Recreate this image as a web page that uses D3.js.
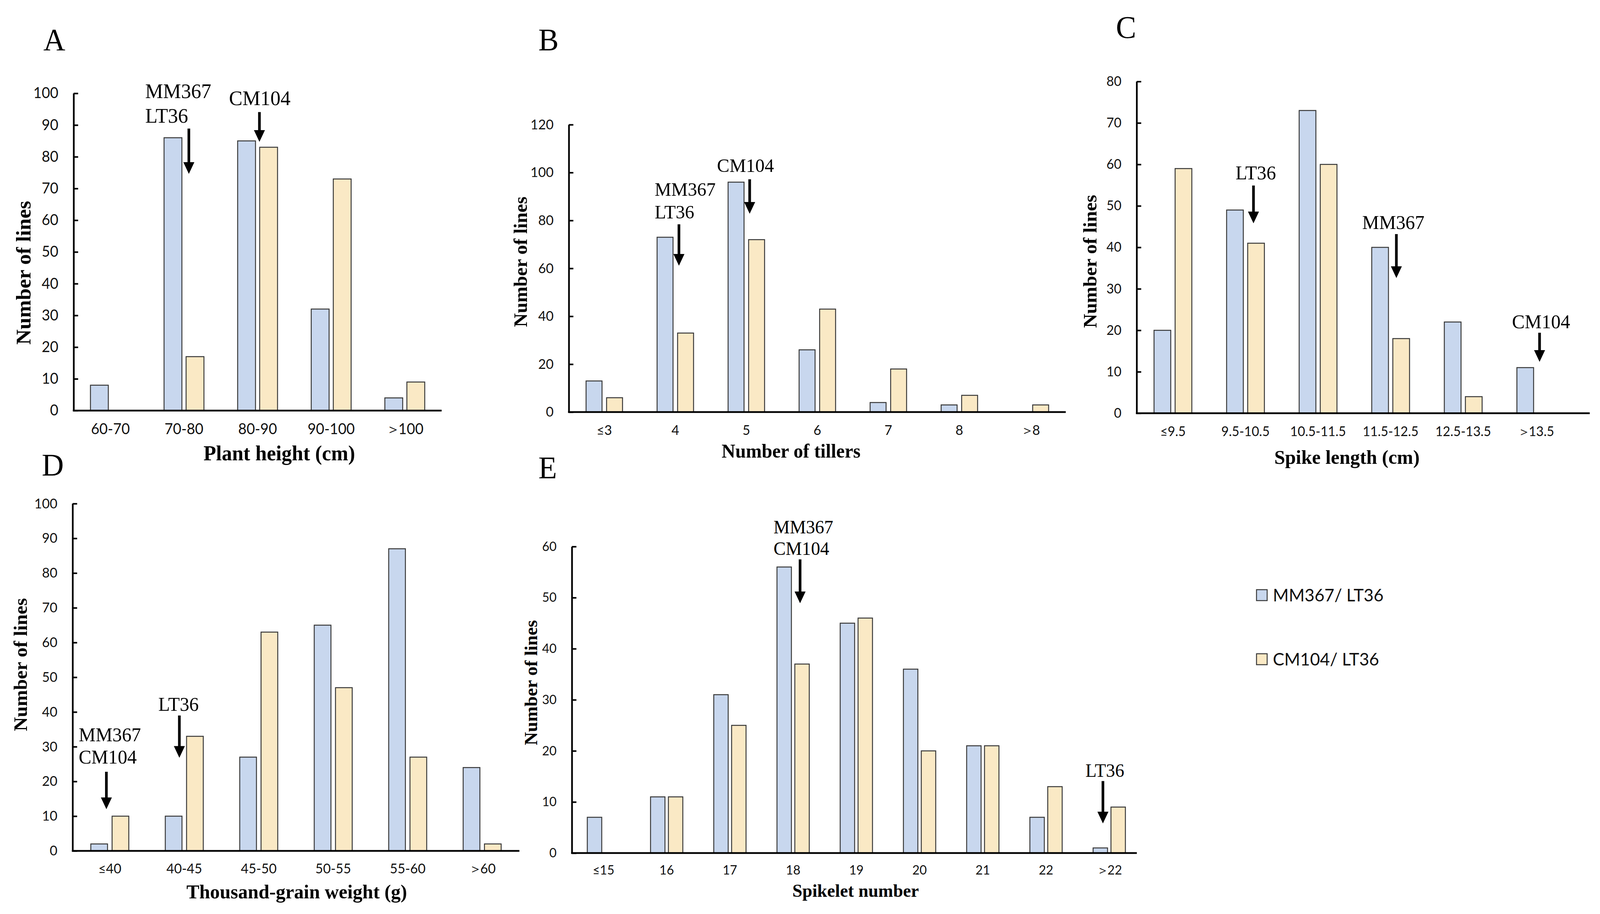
<!DOCTYPE html>
<html>
<head>
<meta charset="utf-8">
<script src="https://cdn.jsdelivr.net/npm/d3@7"></script>
<style>
  html, body { margin: 0; padding: 0; background: #ffffff; overflow: hidden; }
  svg { display: block; width: 100vw; height: 100vh; }
</style>
</head>
<body>
<svg id="chart" viewBox="0 0 4211 2339" preserveAspectRatio="none"></svg>
<script>
// ---------------- DATA ----------------
const seriesNames = ["MM367/ LT36", "CM104/ LT36"];

const catsA = ["60-70", "70-80", "80-90", "90-100", "＞100"];
const mmA   = [8, 86, 85, 32, 4];
const cmA   = [0, 17, 83, 73, 9];
const ticksA = [0, 10, 20, 30, 40, 50, 60, 70, 80, 90, 100];
const annLabelsA = [["MM367", "LT36"], ["CM104"]];

const catsB = ["≤3", "4", "5", "6", "7", "8", "＞8"];
const mmB   = [13, 73, 96, 26, 4, 3, 0];
const cmB   = [6, 33, 72, 43, 18, 7, 3];
const ticksB = [0, 20, 40, 60, 80, 100, 120];
const annLabelsB = [["MM367", "LT36"], ["CM104"]];

const catsC = ["≤9.5", "9.5-10.5", "10.5-11.5", "11.5-12.5", "12.5-13.5", "＞13.5"];
const mmC   = [20, 49, 73, 40, 22, 11];
const cmC   = [59, 41, 60, 18, 4, 0];
const ticksC = [0, 10, 20, 30, 40, 50, 60, 70, 80];
const annLabelsC = [["LT36"], ["MM367"], ["CM104"]];

const catsD = ["≤40", "40-45", "45-50", "50-55", "55-60", "＞60"];
const mmD   = [2, 10, 27, 65, 87, 24];
const cmD   = [10, 33, 63, 47, 27, 2];
const ticksD = [0, 10, 20, 30, 40, 50, 60, 70, 80, 90, 100];
const annLabelsD = [["MM367", "CM104"], ["LT36"]];

const catsE = ["≤15", "16", "17", "18", "19", "20", "21", "22", "＞22"];
const mmE   = [7, 11, 31, 56, 45, 36, 21, 7, 1];
const cmE   = [0, 11, 25, 37, 46, 20, 21, 13, 9];
const ticksE = [0, 10, 20, 30, 40, 50, 60];
const annLabelsE = [["MM367", "CM104"], ["LT36"]];

const panelLetters = ["A", "B", "C", "D", "E"];
const xTitles = ["Plant height (cm)", "Number of tillers", "Spike length (cm)",
                 "Thousand-grain weight (g)", "Spikelet number"];
const yTitle = "Number of lines";

// ---------------- LAYOUT / STYLE ----------------
const colors = ["#c8d7ee", "#fae9c5"];
const strokeCol = "#383838";
const serif = "'Liberation Serif', 'Times New Roman', serif";
const sans = "Lato, 'Open Sans', sans-serif";

const layouts = [
  { x0: 193.7, band: 193.7, axisEnd: 1162.3, y0: 1050.7, yTop: 238.8, bar: 47, gap: 11, tickFont: 38, labelDy: 60,
    letter: [114, 128.6], xt: [735, 1178, 54], yt: [80, 698, 54], annFont: 53,
    ann: [ {cat: 1, anchor: "start", tx: -0.527, ty: [98.5, 90.7], ax: 0.066, a1: 88.9, a2: 74.6},
           {cat: 2, anchor: "middle", tx: 0.03, ty: [96.3], ax: 0.025, a1: 94.1, a2: 84.7} ] },
  { x0: 1497, band: 186.9, axisEnd: 2805, y0: 1054.6, yTop: 319, bar: 42, gap: 12, tickFont: 35, labelDy: 58.5,
    letter: [1417, 128.6], xt: [2082, 1171, 50], yt: [1387, 670, 49], annFont: 49,
    ann: [ {cat: 1, anchor: "start", tx: -0.291, ty: [90.3, 80.8], ax: 0.051, a1: 78.4, a2: 61.1},
           {cat: 2, anchor: "middle", tx: -0.012, ty: [100.3], ax: 0.047, a1: 97.2, a2: 82.8} ] },
  { x0: 2991.5, band: 191, axisEnd: 4184, y0: 1057.5, yTop: 208.5, bar: 44, gap: 11.5, tickFont: 34, labelDy: 59,
    letter: [2937, 97], xt: [3545, 1187, 51], yt: [2886, 669, 50], annFont: 50,
    ann: [ {cat: 1, anchor: "middle", tx: 0.141, ty: [56.4], ax: 0.110, a1: 54.9, a2: 45.8},
           {cat: 3, anchor: "middle", tx: 0.037, ty: [44.4], ax: 0.079, a1: 43.2, a2: 32.6},
           {cat: 5, anchor: "middle", tx: 0.073, ty: [20.5], ax: 0.052, a1: 19.4, a2: 12.4} ] },
  { x0: 191, band: 196, axisEnd: 1367, y0: 2177.5, yTop: 1288.8, bar: 44, gap: 12, tickFont: 35, labelDy: 57.5,
    letter: [110, 1217], xt: [781, 2299, 51], yt: [71, 1701, 50], annFont: 50,
    ann: [ {cat: 0, anchor: "start", tx: -0.418, ty: [31.6, 25.1], ax: -0.046, a1: 22.8, a2: 12.0},
           {cat: 1, anchor: "middle", tx: -0.077, ty: [40.3], ax: -0.066, a1: 39.0, a2: 26.8} ] },
  { x0: 1505, band: 166.4, axisEnd: 2992, y0: 2183, yTop: 1398.7, bar: 38, gap: 9, tickFont: 33, labelDy: 55,
    letter: [1417, 1224], xt: [2252, 2295, 47], yt: [1414, 1747, 47], annFont: 48,
    ann: [ {cat: 3, anchor: "start", tx: -0.31, ty: [62.6, 58.4], ax: 0.11, a1: 57.5, a2: 48.9},
           {cat: 8, anchor: "middle", tx: -0.07, ty: [14.9], ax: -0.10, a1: 14.1, a2: 5.8} ] }
];

const panelData = [
  { cats: catsA, s: [mmA, cmA], ticks: ticksA, ann: annLabelsA },
  { cats: catsB, s: [mmB, cmB], ticks: ticksB, ann: annLabelsB },
  { cats: catsC, s: [mmC, cmC], ticks: ticksC, ann: annLabelsC },
  { cats: catsD, s: [mmD, cmD], ticks: ticksD, ann: annLabelsD },
  { cats: catsE, s: [mmE, cmE], ticks: ticksE, ann: annLabelsE }
];

// ---------------- DRAW ----------------
const svg = d3.select("#chart");
svg.append("rect").attr("width", 4211).attr("height", 2339).attr("fill", "#ffffff");

panelData.forEach((pd, i) => {
  const L = layouts[i];
  const g = svg.append("g");
  const n = pd.cats.length;
  const x = d3.scaleBand().domain(pd.cats).range([L.x0, L.x0 + n * L.band]).padding(0);
  const yMax = pd.ticks[pd.ticks.length - 1];
  const y = d3.scaleLinear().domain([0, yMax]).range([L.y0, L.yTop]);
  const sub = d3.scaleOrdinal().domain([0, 1]).range([-L.gap / 2 - L.bar, L.gap / 2]);

  // bars
  pd.s.forEach((vals, si) => {
    g.append("g").selectAll("rect")
      .data(pd.cats.map((c, k) => ({ c, v: vals[k] })).filter(d => d.v > 0))
      .join("rect")
      .attr("x", d => x(d.c) + x.bandwidth() / 2 + sub(si))
      .attr("y", d => y(d.v))
      .attr("width", L.bar)
      .attr("height", d => y(0) - y(d.v))
      .attr("fill", colors[si])
      .attr("stroke", strokeCol)
      .attr("stroke-width", 2.5);
  });

  // y axis (ticks point inward)
  const ya = g.append("g").attr("transform", `translate(${L.x0},0)`)
    .call(d3.axisLeft(y).tickValues(pd.ticks).tickSizeInner(-12).tickSizeOuter(0).tickPadding(40));
  ya.select(".domain").attr("stroke", "#000").attr("stroke-width", 4.5);
  ya.selectAll(".tick line").attr("stroke", "#000").attr("stroke-width", 4);
  ya.selectAll(".tick text").attr("x", -40)
    .attr("font-family", sans).attr("font-size", L.tickFont).attr("fill", "#111");

  // x axis line
  g.append("line")
    .attr("x1", L.x0 - 2).attr("x2", L.axisEnd)
    .attr("y1", y(0)).attr("y2", y(0))
    .attr("stroke", "#000").attr("stroke-width", 4.5);

  // category labels
  const xa = g.append("g").attr("transform", `translate(0,${y(0)})`)
    .call(d3.axisBottom(x).tickSize(0).tickPadding(0));
  xa.select(".domain").remove();
  xa.selectAll(".tick text")
    .attr("y", L.labelDy).attr("dy", null)
    .attr("font-family", sans).attr("font-size", L.tickFont).attr("fill", "#111")
    .each(function (d) {
      if (d.startsWith("＞")) {
        const t = d3.select(this).text(null);
        t.append("tspan").attr("font-weight", 300).text("＞");
        t.append("tspan").attr("dx", "-0.14em").text(d.slice(1));
      }
    });

  // panel letter
  g.append("text").attr("x", L.letter[0]).attr("y", L.letter[1])
    .attr("font-family", serif).attr("font-size", 80).text(panelLetters[i]);

  // axis titles
  g.append("text").attr("x", L.xt[0]).attr("y", L.xt[1])
    .attr("text-anchor", "middle").attr("font-family", serif).attr("font-weight", "bold")
    .attr("font-size", L.xt[2]).text(xTitles[i]);
  g.append("text").attr("transform", `translate(${L.yt[0]},${L.yt[1]}) rotate(-90)`)
    .attr("text-anchor", "middle").attr("font-family", serif).attr("font-weight", "bold")
    .attr("font-size", L.yt[2]).text(yTitle);

  // annotations (labels + arrows)
  pd.ann.forEach((lines, ai) => {
    const A = L.ann[ai];
    const cx = x(pd.cats[A.cat]) + x.bandwidth() / 2;
    lines.forEach((t, li) => {
      g.append("text").attr("x", cx + A.tx * L.band).attr("y", y(A.ty[li]))
        .attr("text-anchor", A.anchor).attr("font-family", serif)
        .attr("font-size", L.annFont).text(t);
    });
    const axp = cx + A.ax * L.band, top = y(A.a1), tip = y(A.a2);
    const hh = 30, hw = 14.5, sw = 3.5;
    const p = d3.path();
    p.moveTo(axp - sw, top); p.lineTo(axp + sw, top); p.lineTo(axp + sw, tip - hh);
    p.lineTo(axp + hw, tip - hh); p.lineTo(axp, tip); p.lineTo(axp - hw, tip - hh);
    p.lineTo(axp - sw, tip - hh); p.closePath();
    g.append("path").attr("d", p.toString()).attr("fill", "#000");
  });
});

// legend
const legY = [1523, 1687];
const leg = svg.append("g");
seriesNames.forEach((nm, k) => {
  leg.append("rect").attr("x", 3307).attr("y", legY[k] - 14).attr("width", 28).attr("height", 28)
    .attr("fill", colors[k]).attr("stroke", strokeCol).attr("stroke-width", 2.5);
  leg.append("text").attr("x", 3350).attr("y", legY[k] + 16)
    .attr("font-family", sans).attr("font-size", 45).attr("fill", "#111").text(nm);
});
</script>
</body>
</html>
